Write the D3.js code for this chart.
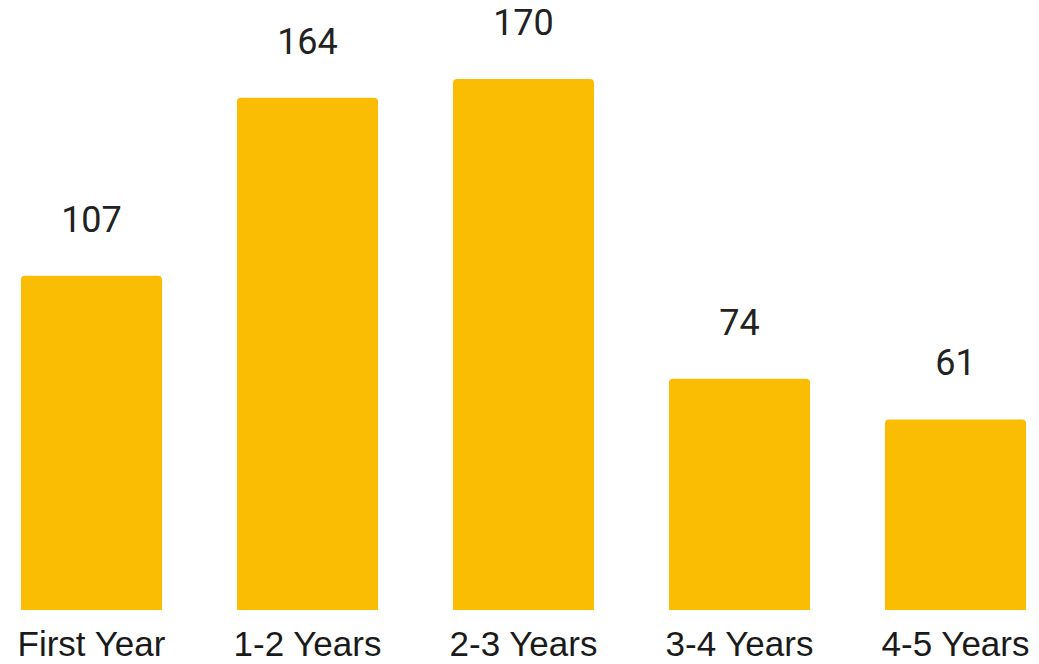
<!DOCTYPE html>
<html>
<head>
<meta charset="utf-8">
<script src="https://cdn.jsdelivr.net/npm/d3@7"></script>
<style>
  body { margin: 0; background: #fff; }
</style>
</head>
<body>
<script>
var categories = ["First Year", "1-2 Years", "2-3 Years", "3-4 Years", "4-5 Years"];
var values = [107, 164, 170, 74, 61];

var width = 1039, height = 664;
var baseY = 610;

var data = categories.map(function (c, i) {
    return {cat: c, value: values[i]};
});

var svg = d3.select("body").append("svg")
    .attr("width", width)
    .attr("height", height);

var xScale = d3.scaleBand()
    .domain(categories)
    .range([0, 1047])
    .paddingInner(0.347)
    .paddingOuter(0.097);

var yScale = d3.scaleLinear()
    .domain([0, 170])
    .range([baseY, 79]);

// bars with slightly rounded top corners
var r = 4;
svg.selectAll(".bar")
    .data(data)
    .enter().append("path")
    .attr("class", "bar")
    .attr("fill", "#fbbc04")
    .attr("d", function (d) {
        var x0 = xScale(d.cat), x1 = x0 + xScale.bandwidth();
        var y0 = yScale(d.value), y1 = yScale(0);
        return "M" + x0 + "," + y1 +
            "V" + (y0 + r) +
            "Q" + x0 + "," + y0 + " " + (x0 + r) + "," + y0 +
            "H" + (x1 - r) +
            "Q" + x1 + "," + y0 + " " + x1 + "," + (y0 + r) +
            "V" + y1 + "Z";
    });

// value labels
svg.selectAll(".val")
    .data(data)
    .enter().append("text")
    .attr("class", "val")
    .attr("x", function (d) { return xScale(d.cat) + xScale.bandwidth() / 2; })
    .attr("y", function (d) { return yScale(d.value) - 44; })
    .attr("text-anchor", "middle")
    .style("font-family", "Roboto, sans-serif")
    .style("font-size", "36px")
    .style("fill", "#222")
    .text(function (d) { return d.value; });

// category axis
var xAxis = d3.axisBottom(xScale).tickSize(0).tickPadding(0);
var axisG = svg.append("g")
    .attr("transform", "translate(0," + baseY + ")")
    .call(xAxis);
axisG.select(".domain").remove();
axisG.selectAll("text")
    .attr("dy", null)
    .attr("y", 46)
    .style("font-family", "'Liberation Sans', Arial, sans-serif")
    .style("font-size", "35px")
    .style("fill", "#1a1a1a");
</script>
</body>
</html>
